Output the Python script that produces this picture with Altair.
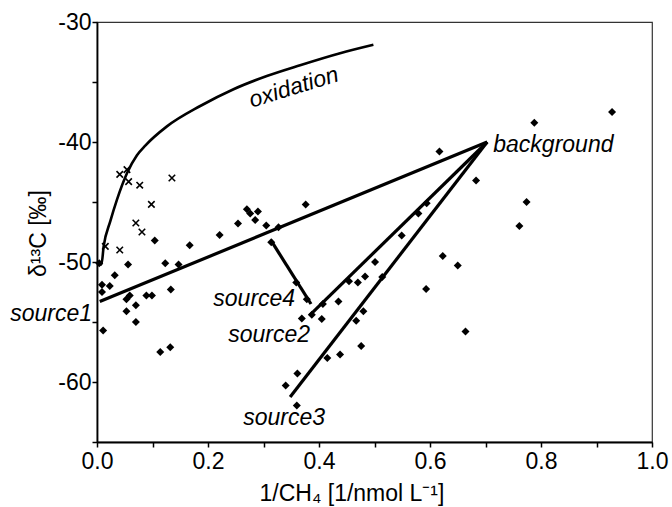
import altair as alt
import pandas as pd

# ---- sample points (diamonds) ----
dia_x = [0.004, 0.056, 0.123, 0.147, 0.032, 0.009, 0.023, 0.009, 0.053, 0.059,
         0.070, 0.089, 0.099, 0.133, 0.053, 0.070, 0.011, 0.114, 0.132, 0.104,
         0.167, 0.221, 0.254, 0.270, 0.276, 0.290, 0.285, 0.305, 0.327, 0.376,
         0.314, 0.359, 0.378, 0.369, 0.387, 0.405, 0.407, 0.435, 0.454, 0.470,
         0.483, 0.501, 0.514, 0.480, 0.467, 0.476, 0.438, 0.415, 0.361, 0.340,
         0.360, 0.549, 0.579, 0.594, 0.617, 0.683, 0.623, 0.650, 0.593, 0.664,
         0.774, 0.761, 0.788, 0.928]
dia_y = [-50.1, -50.2, -50.1, -50.2, -51.1, -51.9, -52.0, -52.5, -53.1, -52.8,
         -53.6, -52.8, -52.8, -52.3, -54.1, -55.0, -55.7, -57.5, -57.1, -48.2,
         -48.6, -47.75, -46.8, -45.6, -45.95, -45.8, -46.5, -46.95, -47.1, -45.2,
         -48.35, -51.7, -53.1, -54.7, -54.4, -54.75, -53.5, -53.3, -51.6, -51.7,
         -51.2, -50.0, -51.25, -54.1, -54.9, -57.0, -57.7, -58.0, -59.3, -60.3,
         -61.95, -47.8, -45.95, -45.1, -40.8, -43.2, -49.5, -50.3, -52.25, -55.8,
         -45.0, -47.0, -38.4, -37.5]

# ---- crosses ----
cross_x = [0.041, 0.054, 0.057, 0.077, 0.135, 0.098, 0.070, 0.081, 0.015, 0.041]
cross_y = [-42.7, -42.3, -43.3, -43.6, -43.0, -45.2, -46.75, -47.5, -48.7, -49.0]

# ---- oxidation curve ----
ox_x = [0.000, 0.008, 0.012, 0.024, 0.036, 0.054, 0.072, 0.087, 0.126, 0.186,
        0.246, 0.306, 0.366, 0.438, 0.498]
ox_y = [-50.2, -50.2, -48.7, -46.6, -44.8, -42.6, -41.1, -40.3, -38.7, -37.0,
        -35.6, -34.5, -33.6, -32.6, -31.9]

# ---- mixing lines ----
bg_x, bg_y = 0.703, -40.0
src_names = ["source1", "source2", "source3"]
src_x = [0.005, 0.383, 0.348]
src_y = [-53.3, -54.45, -61.25]
s4_x = [0.3135, 0.3856]
s4_y = [-48.2, -53.5]

# ---- labels ----
lab_text = ["source1", "source2", "source3", "source4"]
lab_x = [-0.009, 0.384, 0.411, 0.357]
lab_y = [-54.93, -56.7, -63.56, -53.7]

FONT = "Liberation Sans"
FS = 23

dia_df = pd.DataFrame({"x": dia_x, "y": dia_y})
cross_df = pd.DataFrame({"x": cross_x, "y": cross_y})
ox_df = pd.DataFrame({"x": ox_x, "y": ox_y, "o": list(range(len(ox_x)))})
rows = []
for n, sx, sy in zip(src_names, src_x, src_y):
    rows.append({"line": n, "x": sx, "y": sy, "o": 0})
    rows.append({"line": n, "x": bg_x, "y": bg_y, "o": 1})
rows.append({"line": "source4", "x": s4_x[0], "y": s4_y[0], "o": 0})
rows.append({"line": "source4", "x": s4_x[1], "y": s4_y[1], "o": 1})
lines_df = pd.DataFrame(rows)
lab_df = pd.DataFrame({"x": lab_x, "y": lab_y, "t": lab_text})
bg_df = pd.DataFrame({"x": [bg_x + 0.011], "y": [-40.87], "t": ["background"]})
oxl_df = pd.DataFrame({"x": [0.279], "y": [-37.14], "t": ["oxidation"]})

xs = alt.Scale(domain=[0, 1], nice=False, zero=False)
ys = alt.Scale(domain=[-65, -30], nice=False, zero=False)

x_axis = alt.Axis(
    values=[0.0, 0.1, 0.2, 0.3, 0.4, 0.5, 0.6, 0.7, 0.8, 0.9, 1.0],
    labelExpr="round(datum.value*10) % 2 == 0 ? format(datum.value, '.1f') : ''",
    title="1/CH₄ [1/nmol L⁻¹]",
    grid=False, tickSize=5, tickColor="black", tickWidth=1.5,
    domainColor="black", domainWidth=1.8,
    labelFont=FONT, labelFontSize=FS, labelColor="black", labelPadding=3,
    labelFlush=False, labelOverlap=False,
    titleFont=FONT, titleFontSize=FS, titleFontWeight="normal", titleColor="black",
    titleX=254.5, titleY=58, titleBaseline="alphabetic", titleAlign="center",
)
y_axis = alt.Axis(
    values=[-65, -60, -55, -50, -45, -40, -35, -30],
    labelExpr="datum.value % 10 == 0 ? '' + datum.value : ''",
    title="δ¹³C [‰]",
    grid=False, tickSize=5, tickColor="black", tickWidth=1.5,
    domainColor="black", domainWidth=1.8,
    labelFont=FONT, labelFontSize=FS, labelColor="black", labelPadding=1,
    labelFlush=False, labelOverlap=False,
    titleFont=FONT, titleFontSize=FS, titleFontWeight="normal", titleColor="black",
    titleX=-52, titleY=211, titleBaseline="alphabetic", titleAlign="center", titleAngle=270,
)

base_x = alt.X("x:Q", scale=xs, axis=x_axis)
base_y = alt.Y("y:Q", scale=ys, axis=y_axis)

diamonds = alt.Chart(dia_df).mark_point(
    shape="diamond", filled=True, size=64, color="black", opacity=1
).encode(x=base_x, y=base_y)

crosses = alt.Chart(cross_df).mark_point(
    shape="M-1,-1L1,1M-1,1L1,-1", filled=False, size=42, color="black",
    strokeWidth=1.6, opacity=1
).encode(x=alt.X("x:Q", scale=xs), y=alt.Y("y:Q", scale=ys))

ox_line = alt.Chart(ox_df).mark_line(
    color="black", strokeWidth=2.6, interpolate="monotone"
).encode(
    x=alt.X("x:Q", scale=xs), y=alt.Y("y:Q", scale=ys), order="o:Q"
)

mix_lines = alt.Chart(lines_df).mark_line(color="black", strokeWidth=3.2).encode(
    x=alt.X("x:Q", scale=xs), y=alt.Y("y:Q", scale=ys), detail="line:N", order="o:Q"
)

src_labels = alt.Chart(lab_df).mark_text(
    align="right", baseline="alphabetic", font=FONT, fontSize=FS, fontStyle="italic", color="black"
).encode(x=alt.X("x:Q", scale=xs), y=alt.Y("y:Q", scale=ys), text="t:N")

bg_label = alt.Chart(bg_df).mark_text(
    align="left", baseline="alphabetic", font=FONT, fontSize=FS, fontStyle="italic", color="black"
).encode(x=alt.X("x:Q", scale=xs), y=alt.Y("y:Q", scale=ys), text="t:N")

ox_label = alt.Chart(oxl_df).mark_text(
    align="left", baseline="alphabetic", font=FONT, fontSize=FS, fontStyle="italic",
    color="black", angle=343
).encode(x=alt.X("x:Q", scale=xs), y=alt.Y("y:Q", scale=ys), text="t:N")

chart = alt.layer(
    diamonds, crosses, ox_line, mix_lines, src_labels, bg_label, ox_label
).properties(
    width=555, height=420,
    padding={"left": 97, "top": 22, "right": 20, "bottom": 65},
    autosize=alt.AutoSizeParams(type="none"),
    background="white",
).configure_view(stroke="#333333", strokeWidth=1.2)

chart.save("out.html", embed_options={"renderer": "svg", "actions": False})
